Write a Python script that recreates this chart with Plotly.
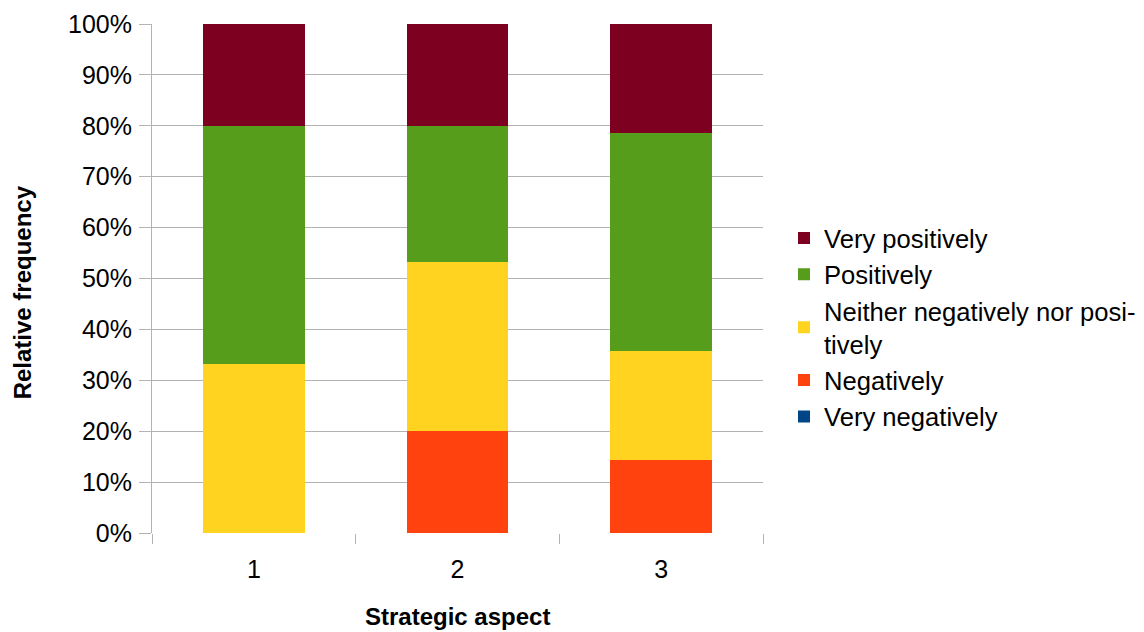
import plotly.graph_objects as go

categories = ["1", "2", "3"]
series_names = ["Very negatively", "Negatively", "Neither negatively nor posi-<br>tively", "Positively", "Very positively"]
very_negatively = [0.0, 0.0, 0.0]
negatively = [0.0, 20.0, 14.3]
neither = [33.3, 33.3, 21.4]
positively = [46.7, 26.7, 42.9]
very_positively = [20.0, 20.0, 21.4]
colors = ["#004586", "#ff420e", "#ffd320", "#579d1c", "#7e0021"]
y_ticks = [0, 10, 20, 30, 40, 50, 60, 70, 80, 90, 100]
y_tick_labels = [f"{v}%" for v in y_ticks]

values = [very_negatively, negatively, neither, positively, very_positively]

fig = go.Figure()
for name, vals, col in zip(series_names, values, colors):
    fig.add_trace(go.Bar(x=categories, y=vals, name=name, marker=dict(color=col, line=dict(width=0)), width=0.5))

font_family = "Liberation Sans, Arial, sans-serif"
fig.update_layout(
    barmode="stack",
    width=1144, height=632,
    margin=dict(l=144, r=388, t=16, b=107),
    paper_bgcolor="white", plot_bgcolor="white",
    font=dict(family=font_family, size=25, color="black"),
    legend=dict(traceorder="reversed", x=1.0327, xanchor="left", y=0.404, yanchor="middle",
                font=dict(size=25.6, color="black"), itemwidth=30, tracegroupgap=0,
                bgcolor="rgba(0,0,0,0)"),
    xaxis=dict(type="category", tickson="boundaries", ticks="outside", ticklen=10, tickcolor="#b3b3b3",
               showgrid=False, showline=False, zeroline=False, automargin=False,
               ticklabelstandoff=19, ticklabeloverflow="allow", tickfont=dict(size=25)),
    yaxis=dict(range=[0, 100], tickvals=y_ticks, ticktext=y_tick_labels, ticks="outside", ticklen=12,
               tickcolor="#b3b3b3", showgrid=True, gridcolor="#b3b3b3", gridwidth=1,
               showline=True, linecolor="#b3b3b3", linewidth=1, zeroline=False, automargin=False,
               ticklabelstandoff=2, ticklabeloverflow="allow", tickfont=dict(size=25)),
    annotations=[
        dict(text="<b>Strategic aspect</b>", xref="paper", yref="paper", x=0.5, y=-0.165,
             xanchor="center", yanchor="middle", showarrow=False, font=dict(size=24)),
        dict(text="<b>Relative frequency</b>", xref="paper", yref="paper", x=-0.2105, y=0.4735,
             xanchor="center", yanchor="middle", showarrow=False, textangle=-90, font=dict(size=24)),
    ],
)

fig.write_html("out.html")
